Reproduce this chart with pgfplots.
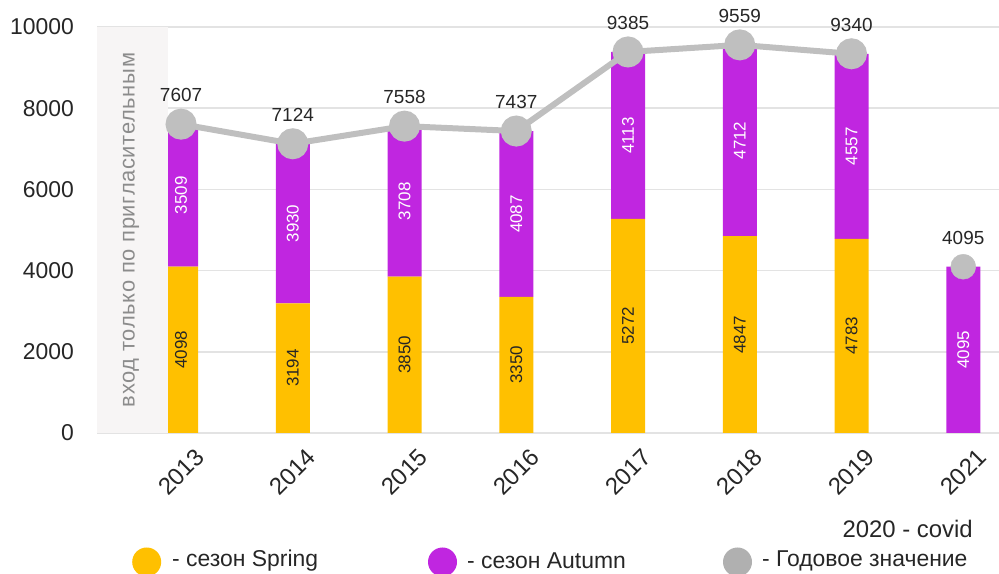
\documentclass[border=0pt]{standalone}
\usepackage{fontspec}
\setmainfont{Liberation Sans}
\usepackage{pgfplots}
\pgfplotsset{compat=1.18}

\definecolor{spring}{HTML}{FFC000}
\definecolor{autumn}{HTML}{C026E0}
\definecolor{total}{HTML}{BFBFBF}
\definecolor{totalleg}{HTML}{B0B0B0}
\definecolor{gridc}{HTML}{E3E3E3}
\definecolor{panelbg}{HTML}{F7F5F5}
\definecolor{txt}{HTML}{262626}
\definecolor{notegray}{HTML}{8C8C8C}

\pgfplotsset{
  common/.style={
    scale only axis, width=902bp, height=406bp,
    xmin=-0.752, xmax=7.32, ymin=0, ymax=10000,
  },
}

\begin{document}
\begin{tikzpicture}[x=1bp,y=1bp]
\path[use as bounding box] (-97,-141) rectangle (902,433);

% bars: spring + autumn
\begin{axis}[common,
    ybar stacked, bar width=34bp,
    axis x line*=bottom, axis y line*=left,
    x axis line style={-, gridc, line width=2bp},
    y axis line style={draw=none},
    xtick={0,...,7},
    xticklabels={2013,2014,2015,2016,2017,2018,2019,2021},
    ytick={0,2000,...,10000},
    scaled y ticks=false,
    ymajorgrids, grid style={gridc, line width=1.5bp},
    tick style={draw=none},
    /pgf/number format/assume math mode=true,
    /pgf/number format/1000 sep={},
    yticklabel style={font=\fontsize{23}{23}\selectfont, text=txt, anchor=east, inner sep=0pt, xshift=-23bp},
    xticklabel style={font=\fontsize{24}{24}\selectfont, text=txt, yshift=-39bp, rotate=45, anchor=center, inner sep=0pt},
    point meta=explicit symbolic,
    nodes near coords,
    every node near coord/.style={font=\fontsize{17}{17}\selectfont, rotate=90, anchor=center},
]
\fill[panelbg] (axis cs:-0.752,0) rectangle (axis cs:-0.116,10000);

\addplot[fill=spring, draw=none, every node near coord/.append style={text=txt}]
coordinates {
    (0,4098) [4098]
    (1,3194) [3194]
    (2,3850) [3850]
    (3,3350) [3350]
    (4,5272) [5272]
    (5,4847) [4847]
    (6,4783) [4783]
    (7,0) [{}]
};
\addplot[fill=autumn, draw=none, every node near coord/.append style={text=white}]
coordinates {
    (0,3509) [3509]
    (1,3930) [3930]
    (2,3708) [3708]
    (3,4087) [4087]
    (4,4113) [4113]
    (5,4712) [4712]
    (6,4557) [4557]
    (7,4095) [4095]
};
\end{axis}

\node[rotate=90, text=notegray, font=\fontsize{22}{22}\selectfont\addfontfeature{LetterSpace=3}] at (34,203) {вход только по пригласительным};

% yearly total
\begin{axis}[common, hide axis,
    point meta=explicit symbolic,
    nodes near coords,
    every node near coord/.append style={font=\fontsize{19}{19}\selectfont, text=txt, anchor=center, yshift=29bp},
]
\addplot[total, line width=6bp, mark=*, mark size=12.5bp, mark options={fill=total, draw=none}]
coordinates {
    (0,7607) [7607]
    (1,7124) [7124]
    (2,7558) [7558]
    (3,7437) [7437]
    (4,9385) [9385]
    (5,9559) [9559]
    (6,9340) [9340]
};
\addplot[total, only marks, mark=*, mark size=12.5bp, mark options={fill=total, draw=none}]
coordinates {
    (7,4095) [4095]
};
\end{axis}

% legend and note
\begin{scope}[font=\fontsize{23}{23}\selectfont, text=txt]
\fill[spring] (49.7,-129) circle (14.5);
\node[anchor=west, inner sep=0pt] at (75,-128) {- сезон Spring};
\fill[autumn] (345.5,-129) circle (14.5);
\node[anchor=west, inner sep=0pt] at (370,-128) {- сезон Autumn};
\fill[totalleg] (640.5,-129) circle (14.5);
\node[anchor=west, inner sep=0pt] at (665,-128) {- Годовое значение};
\node[anchor=east, inner sep=0pt, font=\fontsize{24}{24}\selectfont] at (876,-96) {2020 - covid};
\end{scope}
\end{tikzpicture}
\end{document}
